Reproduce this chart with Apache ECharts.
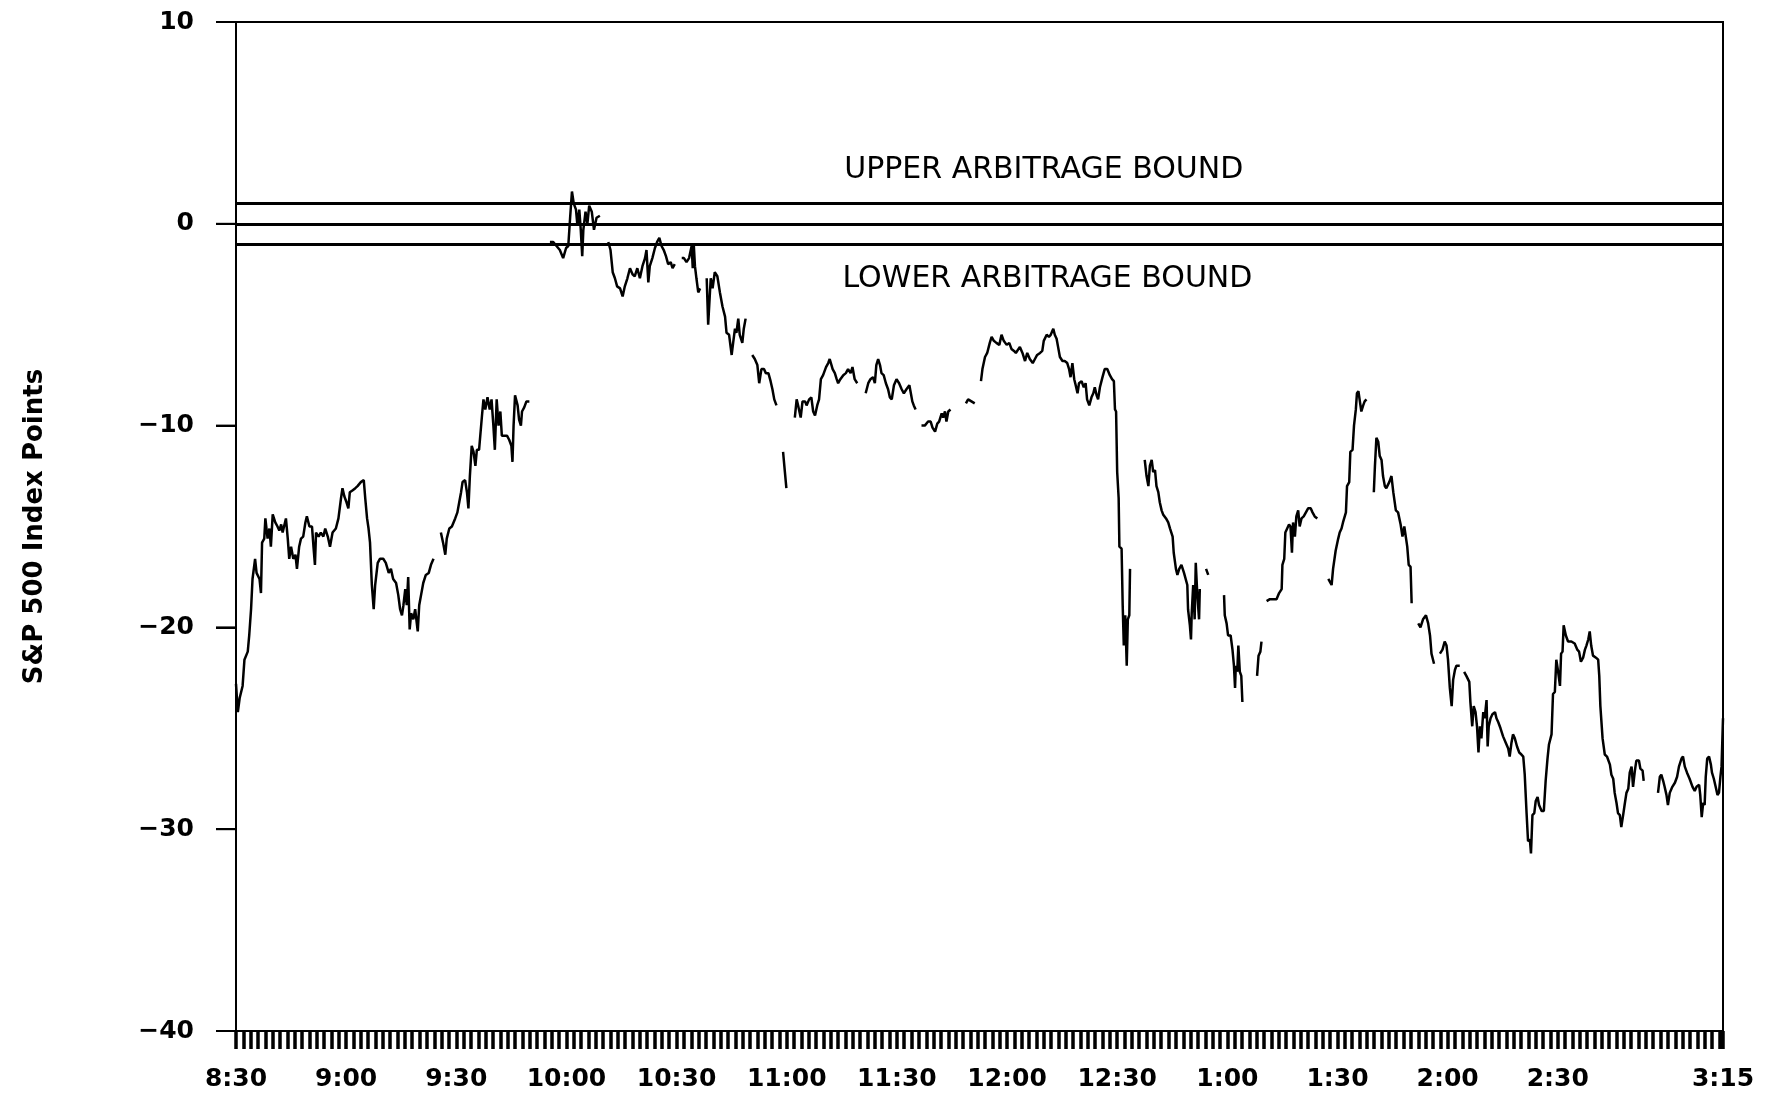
<!DOCTYPE html>
<html><head><meta charset="utf-8">
<script src="https://cdn.jsdelivr.net/npm/echarts@6/dist/echarts.min.js"></script>
<style>html,body{margin:0;padding:0;background:#fff}#c{width:1771px;height:1097px}</style>
</head><body><div id="c"></div>
<script>
// time in minutes after 8:30, value = S&P 500 index points (null = gap)
const premiumByMinute = [
[0,-22.8],[0.5,-24.2],[1.0,-23.5],[1.8,-22.9],[2.3,-21.6],[3.2,-21.2],[3.6,-20.4],[4.1,-19.1],[4.5,-17.6],[5.2,-16.6],
[5.6,-17.3],[6.4,-17.6],[6.8,-18.3],[7.1,-15.8],[7.7,-15.6],[8.0,-14.6],[8.6,-15.6],[9.1,-15.1],[9.5,-16.0],[10.0,-14.4],
[10.7,-14.8],[11.3,-15.0],[11.8,-15.2],[12.3,-14.9],[12.7,-15.3],[13.6,-14.6],[14.1,-15.6],[14.5,-16.6],[15.0,-16.0],[15.6,-16.6],
[16.2,-16.4],[16.6,-17.1],[17.2,-16.0],[17.7,-15.6],[18.3,-15.5],[18.9,-14.8],[19.3,-14.5],[20.0,-15.0],[20.7,-15.0],[21.1,-16.0],
[21.5,-16.9],[21.8,-15.3],[22.5,-15.5],[23.1,-15.3],[23.8,-15.5],[24.3,-15.1],[25.0,-15.5],[25.6,-16.0],[26.3,-15.3],[27.2,-15.1],
[27.9,-14.6],[28.6,-13.6],[29.0,-13.1],[29.5,-13.5],[30.1,-13.8],[30.6,-14.1],[31.0,-13.3],[31.8,-13.2],[32.5,-13.1],[33.1,-13.0],
[34.0,-12.8],[34.8,-12.7],[35.2,-13.6],[35.7,-14.6],[36.1,-15.1],[36.5,-15.8],[37.0,-17.9],[37.5,-19.1],[37.9,-17.9],[38.6,-16.8],
[39.2,-16.6],[40.1,-16.6],[40.8,-16.8],[41.6,-17.3],[42.2,-17.1],[42.8,-17.6],[43.6,-17.8],[44.2,-18.4],[44.7,-19.1],[45.2,-19.4],
[45.6,-18.9],[46.1,-18.1],[46.5,-18.9],[46.9,-17.5],[47.3,-20.1],[47.7,-19.3],[48.3,-19.6],[48.8,-19.1],[49.5,-20.2],[49.9,-18.9],
[50.4,-18.4],[51.0,-17.8],[51.7,-17.4],[52.5,-17.3],[53.1,-16.9],[53.8,-16.6],[54.8,null],
[55.8,-15.3],[56.4,-15.8],[57.0,-16.4],[57.4,-15.6],[58.1,-15.1],[58.8,-15.0],[59.7,-14.6],[60.3,-14.3],[60.8,-13.8],[61.3,-13.3],
[61.7,-12.8],[62.4,-12.7],[62.9,-13.3],[63.3,-14.1],[63.7,-12.5],[64.2,-11.0],[64.7,-11.3],[65.2,-12.0],[65.6,-11.2],[66.2,-11.2],
[67.0,-9.5],[67.4,-8.7],[67.9,-9.2],[68.5,-8.6],[69.1,-9.2],[69.6,-8.7],[70.1,-10.0],[70.5,-11.2],[71.0,-8.7],[71.5,-10.0],
[72.0,-9.3],[72.4,-10.5],[73.0,-10.5],[73.8,-10.5],[74.4,-10.7],[75.0,-11.0],[75.3,-11.8],[75.6,-10.0],[76.0,-8.5],[76.7,-9.0],
[77.1,-9.7],[77.6,-10.0],[77.9,-9.3],[78.5,-9.1],[79.1,-8.8],[79.9,-8.8],[82,null],
[85.5,-0.9],[86.4,-0.9],[87.3,-1.1],[88.2,-1.3],[89.1,-1.7],[89.9,-1.2],[90.5,-1.1],[91.0,0.3],[91.5,1.6],[92.0,1.0],
[92.6,0.7],[93.0,-0.1],[93.5,0.7],[93.9,-0.3],[94.3,-1.6],[94.6,-0.3],[95.2,0.6],[95.7,0.0],[96.2,0.9],[96.9,0.6],
[97.5,-0.3],[98.2,0.3],[99.1,0.4],[100.2,null],
[101.4,-0.9],[102.0,-1.3],[102.6,-2.4],[103.2,-2.7],[103.8,-3.1],[104.6,-3.2],[105.3,-3.6],[105.9,-3.1],[106.6,-2.7],[107.3,-2.2],
[108.0,-2.5],[108.6,-2.6],[109.3,-2.2],[110.0,-2.7],[110.7,-2.1],[111.4,-1.7],[111.8,-1.3],[112.3,-2.9],[112.7,-2.1],[113.4,-1.7],
[114.1,-1.2],[114.7,-0.9],[115.3,-0.7],[115.9,-1.1],[116.5,-1.3],[117.1,-1.6],[117.7,-2.0],[118.4,-1.9],[118.9,-2.2],[119.5,-2.0],[120.5,null],
[121.4,-1.7],[122.0,-1.7],[122.7,-1.9],[123.4,-1.7],[124.1,-1.1],[124.4,-2.2],[124.7,-1.1],[125.0,-2.1],[125.4,-2.7],[125.9,-3.4],[126.4,-3.2],[127.3,null],
[128.2,-2.7],[128.6,-5.0],[129.3,-2.7],[129.8,-3.2],[130.4,-2.4],[131.1,-2.6],[131.8,-3.4],[132.5,-4.1],[133.2,-4.6],[133.6,-5.4],
[134.3,-5.5],[135.0,-6.5],[135.4,-5.9],[135.9,-5.2],[136.3,-5.4],[136.8,-4.7],[137.2,-5.5],[137.9,-5.9],[138.3,-5.2],[138.8,-4.7],[139.7,null],
[140.6,-6.5],[141.3,-6.7],[142.0,-7.0],[142.5,-7.9],[143.1,-7.2],[143.8,-7.2],[144.3,-7.4],[145.0,-7.4],[145.6,-7.8],[146.1,-8.2],
[146.6,-8.7],[147.2,-9.0],[148,null],
[149.0,-11.3],[149.5,-12.3],[149.9,-13.1],[151,null],
[152.2,-9.6],[152.7,-8.7],[153.1,-9.0],[153.8,-9.6],[154.3,-8.8],[155.0,-8.8],[155.4,-9.0],[156.1,-8.7],[156.7,-8.6],[157.2,-9.3],
[157.7,-9.5],[158.3,-9.0],[158.8,-8.7],[159.3,-7.7],[159.9,-7.5],[160.7,-7.1],[161.3,-6.9],[161.7,-6.7],[162.5,-7.2],[163.1,-7.4],
[163.6,-7.7],[164.0,-7.9],[164.6,-7.7],[165.4,-7.5],[166.1,-7.4],[166.7,-7.2],[167.4,-7.4],[167.9,-7.1],[168.5,-7.7],[169.2,-7.9],[170.3,null],
[171.5,-8.4],[172.2,-7.9],[172.8,-7.7],[173.5,-7.6],[174.0,-7.9],[174.4,-7.0],[174.9,-6.7],[175.4,-7.0],[175.8,-7.4],[176.4,-7.5],
[177.0,-7.9],[177.6,-8.2],[178.1,-8.6],[178.6,-8.7],[179.2,-8.0],[179.9,-7.7],[180.6,-7.9],[181.3,-8.2],[181.9,-8.4],[182.6,-8.2],
[183.4,-8.0],[183.8,-8.4],[184.2,-8.8],[184.6,-9.0],[185.1,-9.2],[186,null],
[186.7,-10.0],[187.6,-10.0],[188.5,-9.8],[189.2,-9.8],[189.7,-10.1],[190.4,-10.3],[191.0,-9.9],[191.5,-9.8],[192.2,-9.4],[192.6,-9.6],
[193.1,-9.3],[193.5,-9.8],[194.0,-9.3],[194.6,-9.2],[196,null],
[198.8,-8.9],[199.4,-8.7],[200.3,-8.8],[201.2,-8.9],[202,null],
[202.9,-7.8],[203.3,-7.2],[204.0,-6.6],[204.6,-6.4],[205.3,-5.9],[205.8,-5.6],[206.4,-5.8],[207.1,-5.9],[207.9,-6.0],[208.5,-5.5],
[209.1,-5.8],[209.9,-6.0],[210.6,-5.9],[211.2,-6.2],[211.9,-6.3],[212.4,-6.4],[213.5,-6.1],[214.2,-6.4],[214.9,-6.8],[215.5,-6.4],
[216.2,-6.7],[217.0,-6.9],[217.6,-6.7],[218.2,-6.5],[219.0,-6.4],[219.6,-6.3],[220.0,-5.8],[220.8,-5.5],[221.4,-5.6],[221.9,-5.5],
[222.6,-5.2],[223.0,-5.5],[223.5,-5.7],[223.9,-6.1],[224.4,-6.6],[225.1,-6.8],[225.7,-6.8],[226.4,-6.9],[226.9,-7.2],[227.3,-7.6],
[227.8,-6.9],[228.3,-7.7],[228.7,-8.0],[229.2,-8.4],[229.6,-7.9],[230.3,-7.8],[230.9,-8.1],[231.4,-7.9],[231.8,-8.7],[232.4,-9.0],
[233.0,-8.6],[233.5,-8.4],[233.9,-8.1],[234.4,-8.5],[234.8,-8.7],[235.3,-8.1],[236.0,-7.6],[236.6,-7.2],[237.3,-7.2],[238.0,-7.5],
[238.6,-7.7],[239.1,-7.8],[239.4,-9.2],[239.7,-9.3],[240.0,-12.3],[240.4,-13.6],[240.6,-16.0],[241.2,-16.1],[241.5,-18.9],[241.8,-20.9],
[242.2,-19.4],[242.6,-21.9],[242.9,-19.6],[243.3,-19.4],[243.5,-17.1],[245,null],
[247.5,-11.7],[248.0,-12.5],[248.5,-13.0],[248.9,-12.0],[249.4,-11.7],[249.8,-12.3],[250.3,-12.2],[250.7,-13.0],[251.2,-13.3],[251.6,-13.8],
[252.1,-14.2],[252.5,-14.4],[253.3,-14.6],[253.9,-14.8],[254.4,-15.1],[255.1,-15.5],[255.4,-16.3],[256.0,-17.1],[256.4,-17.4],[256.9,-17.1],
[257.5,-16.9],[258.2,-17.3],[258.7,-17.3],[259.1,-17.9],[259.3,-19.1],[259.8,-19.9],[260.1,-20.6],[260.3,-19.3],[260.7,-17.9],[261.1,-19.6],
[261.4,-16.8],[261.8,-18.3],[262.3,-19.6],[262.5,-18.1],[263.3,null],
[264.2,-17.1],[264.8,-17.4],[267,null],
[269.1,-18.4],[269.3,-19.4],[269.8,-19.8],[270.2,-20.4],[270.9,-20.4],[271.4,-21.1],[271.8,-21.9],[272.1,-23.0],[272.3,-21.9],[272.7,-22.2],
[273.0,-20.9],[273.4,-22.2],[273.8,-22.4],[274.1,-23.7],[276,null],
[278.1,-22.4],[278.5,-21.4],[279.0,-21.2],[279.3,-20.7],[280,null],
[280.7,-18.7],[281.6,-18.6],[282.5,-18.6],[283.4,-18.6],[284.1,-18.3],[284.8,-18.1],[285.0,-16.9],[285.5,-16.6],[285.8,-15.3],[286.3,-15.1],
[286.8,-14.9],[287.2,-15.0],[287.6,-16.3],[287.9,-14.8],[288.4,-15.5],[288.8,-14.5],[289.3,-14.2],[289.7,-15.0],[290.2,-14.6],[290.8,-14.5],
[291.4,-14.3],[292.0,-14.1],[292.7,-14.1],[293.2,-14.3],[293.8,-14.5],[294.5,-14.6],[296,null],
[297.5,-17.6],[298.4,-17.9],[298.8,-17.1],[299.5,-16.2],[300.2,-15.6],[300.6,-15.3],[301.1,-15.1],[301.5,-14.8],[302.3,-14.3],[302.6,-13.0],
[303.2,-12.8],[303.5,-11.3],[304.1,-11.2],[304.5,-10.0],[305.0,-9.2],[305.3,-8.4],[305.7,-8.3],[306.1,-8.8],[306.5,-9.3],[307.0,-9.0],
[307.4,-8.8],[307.9,-8.7],[309,null],
[309.9,-13.3],[310.2,-12.0],[310.6,-10.6],[311.1,-10.8],[311.5,-11.5],[312.0,-11.7],[312.4,-12.5],[312.9,-13.0],[313.3,-13.1],[314.1,-12.8],
[314.7,-12.5],[315.2,-13.3],[315.9,-14.2],[316.5,-14.3],[317.2,-14.9],[317.7,-15.5],[318.2,-15.0],[318.6,-15.0],[319.0,-16.0],[319.4,-16.9],
[319.9,-17.0],[320.2,-18.8],[321,null],
[322.0,-19.8],[322.6,-20.0],[323.3,-19.6],[324.1,-19.4],[324.7,-19.8],[325.2,-20.4],[325.6,-21.3],[326.3,-21.8],[327.1,null],
[327.9,-21.3],[328.6,-21.1],[329.2,-20.7],[329.7,-20.9],[330.1,-21.6],[330.6,-23.0],[331.1,-23.9],[331.5,-22.6],[332.0,-22.1],[332.4,-21.9],
[333.3,-21.9],[333.9,null],
[334.5,-22.2],[335.1,-22.4],[335.9,-22.7],[336.2,-23.7],[336.7,-24.9],[337.1,-23.9],[337.6,-24.2],[338.0,-24.9],[338.4,-26.2],[338.8,-24.9],
[339.2,-25.5],[339.7,-24.2],[340.1,-24.5],[340.6,-23.6],[340.9,-25.9],[341.2,-24.9],[341.7,-24.5],[342.2,-24.3],[342.9,-24.2],[343.3,-24.5],
[343.8,-24.7],[344.4,-25.0],[345.1,-25.4],[345.8,-25.7],[346.5,-26.0],[346.9,-26.4],[347.4,-25.7],[347.8,-25.3],[348.3,-25.5],[348.9,-25.9],
[349.5,-26.2],[350.1,-26.3],[350.6,-26.4],[351.0,-27.3],[351.5,-29.2],[351.9,-30.6],[352.4,-30.5],[352.7,-31.2],[353.1,-29.3],[353.6,-29.2],
[354.0,-28.6],[354.5,-28.4],[354.9,-28.8],[355.6,-29.1],[356.2,-29.1],[356.7,-27.6],[357.2,-26.5],[357.6,-25.8],[358.3,-25.3],[358.7,-23.3],
[359.2,-23.2],[359.6,-21.6],[360.1,-22.2],[360.6,-22.9],[360.9,-21.3],[361.3,-21.2],[361.6,-19.9],[362.2,-20.4],[362.8,-20.7],[363.7,-20.7],
[364.6,-20.8],[365.3,-21.1],[365.8,-21.2],[366.3,-21.7],[366.9,-21.5],[367.4,-21.1],[367.8,-20.9],[368.3,-20.6],[368.7,-20.2],[369.1,-20.9],
[369.6,-21.4],[370.4,-21.5],[371.0,-21.6],[371.3,-22.4],[371.6,-23.9],[372.2,-25.5],[372.8,-26.3],[373.4,-26.4],[374.2,-26.8],[374.6,-27.3],
[375.1,-27.5],[375.5,-28.2],[376.0,-28.7],[376.4,-29.2],[376.9,-29.3],[377.3,-29.9],[377.8,-29.3],[378.2,-28.8],[378.7,-28.2],[379.2,-28.0],
[379.6,-27.2],[380.1,-26.9],[380.5,-27.9],[381.0,-27.1],[381.4,-26.6],[382.1,-26.6],[382.5,-27.0],[383.1,-27.1],[383.4,-27.6],[385,null],
[387.3,-28.2],[387.8,-27.4],[388.2,-27.3],[388.7,-27.6],[389.1,-27.9],[389.6,-28.3],[390.0,-28.8],[390.5,-28.2],[391.2,-27.9],[391.9,-27.7],
[392.5,-27.4],[393.0,-26.9],[393.7,-26.5],[394.1,-26.4],[394.6,-26.9],[395.2,-27.2],[395.9,-27.5],[396.7,-27.9],[397.3,-28.1],[397.8,-27.9],
[398.5,-27.8],[398.8,-28.3],[399.2,-29.4],[399.6,-28.7],[400.0,-28.8],[400.3,-27.4],[400.7,-26.5],[401.2,-26.4],[401.7,-26.8],[402.0,-27.2],
[402.5,-27.5],[403.0,-27.9],[403.5,-28.3],[403.9,-28.2],[404.3,-27.4],[404.6,-26.9],[405.0,-24.5]
];

const timeTickMinutes = [0, 30, 60, 90, 120, 150, 180, 210, 240, 270, 300, 330, 360, 405];
const timeTickLabels = ['8:30','9:00','9:30','10:00','10:30','11:00','11:30','12:00','12:30','1:00','1:30','2:00','2:30','3:15'];
const yTickValues = [10, 0, -10, -20, -30, -40];
const boundLevels = [1, 0, -1];
const boundTexts = ['UPPER ARBITRAGE BOUND', 'LOWER ARBITRAGE BOUND'];
const boundTextAnchors = [[220, 2.68], [221, -2.77]]; // data-space anchors (minute, points)
const yAxisTitle = 'S&P 500 Index Points';

const labelMap = {};
timeTickMinutes.forEach((m, i) => { labelMap[m] = timeTickLabels[i]; });

const chart = echarts.init(document.getElementById('c'), null, {renderer: 'canvas'});
const FONT = 'DejaVu Sans';
chart.setOption({
  animation: false,
  backgroundColor: '#fff',
  grid: {left: 236, right: 48, top: 22, bottom: 66, show: true, borderColor: '#000', borderWidth: 2,
         backgroundColor: 'transparent', outerBoundsMode: 'none', containLabel: false},
  xAxis: {
    type: 'value', min: 0, max: 405, interval: 2, position: 'bottom',
    axisLine: {show: true, onZero: false, lineStyle: {color: '#000', width: 2}},
    axisTick: {show: true, inside: false, length: 18, lineStyle: {color: '#000', width: 3.5}},
    axisLabel: {show: true, formatter: v => (labelMap[v] !== undefined ? labelMap[v] : ''),
      margin: 36, color: '#000', fontFamily: FONT, fontWeight: 'bold', fontSize: 25,
      showMinLabel: true, showMaxLabel: true, hideOverlap: false},
    splitLine: {show: false}
  },
  yAxis: {
    type: 'value', min: -40, max: 10, interval: 10, position: 'left',
    axisLine: {show: true, onZero: false, lineStyle: {color: '#000', width: 2}},
    axisTick: {show: true, inside: false, length: 20, lineStyle: {color: '#000', width: 2}},
    axisLabel: {formatter: v => String(v).replace('-', '\u2212'), margin: 42, color: '#000',
      fontFamily: FONT, fontWeight: 'bold', fontSize: 25},
    splitLine: {show: false},
    name: yAxisTitle, nameLocation: 'middle', nameRotate: 90, nameGap: 188,
    nameTextStyle: {fontFamily: FONT, fontWeight: 'bold', fontSize: 26, color: '#000'}
  },
  series: [{
    type: 'line', data: premiumByMinute, showSymbol: false, symbol: 'none', connectNulls: false,
    lineStyle: {color: '#000', width: 2.5}, silent: true, z: 3,
    markLine: {silent: true, symbol: 'none', label: {show: false},
      lineStyle: {color: '#000', width: 3, type: 'solid'},
      data: boundLevels.map(v => ({yAxis: v}))}
  }, {
    // outward y-axis tick marks, placed through the axis scale
    type: 'custom', clip: false, silent: true, z: 5,
    data: yTickValues.map(v => [0, v]),
    renderItem: (params, api) => {
      const p = api.coord([api.value(0), api.value(1)]);
      return {type: 'line', shape: {x1: p[0] - 20, y1: p[1], x2: p[0], y2: p[1]},
        style: {stroke: '#000', lineWidth: 2}};
    }
  }]
});

const texts = boundTexts.map((t, i) => {
  const p = chart.convertToPixel({gridIndex: 0}, boundTextAnchors[i]);
  return {type: 'text', x: p[0], y: p[1], silent: true,
    style: {text: t, fill: '#000', font: '30px "DejaVu Sans"', textAlign: 'center', textVerticalAlign: 'middle'}};
});
chart.setOption({graphic: texts});
</script></body></html>
